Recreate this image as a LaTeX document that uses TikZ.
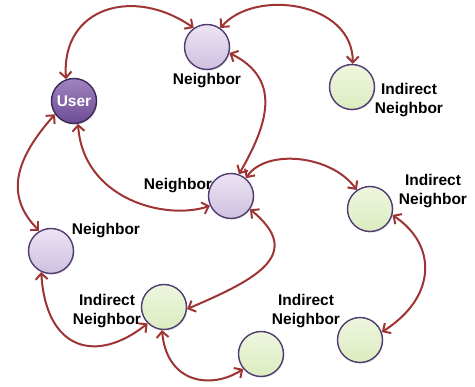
\documentclass[tikz,border=0pt]{standalone}
\usepackage{fontspec}
\setmainfont{Liberation Sans}
\usetikzlibrary{arrows.meta,shadows}
\definecolor{arrowred}{RGB}{158,52,52}
\definecolor{rimpurple}{RGB}{80,60,112}
\definecolor{userrim}{RGB}{60,40,90}
\tikzset{
  ball/.style={circle, minimum size=45pt, inner sep=0pt, line width=1.4pt, draw=rimpurple,
    drop shadow={opacity=0.25, shadow xshift=1pt, shadow yshift=-1.2pt}},
  userball/.style={ball, draw=userrim, top color={rgb,255:red,160;green,132;blue,192}, bottom color={rgb,255:red,108;green,76;blue,148},
    text=white, font=\bfseries\fontsize{15.5}{18}\selectfont},
  nbball/.style={ball, top color={rgb,255:red,236;green,228;blue,244}, bottom color={rgb,255:red,206;green,192;blue,224}},
  indball/.style={ball, top color={rgb,255:red,238;green,246;blue,222}, bottom color={rgb,255:red,220;green,236;blue,192}},
  lbl/.style={align=center, inner sep=0pt, font=\bfseries\fontsize{15.5}{19}\selectfont},
  link/.style={draw=arrowred, line width=2pt, {Straight Barb[length=6pt,width=12pt]}-{Straight Barb[length=6pt,width=12pt]}}
}
\begin{document}
\begin{tikzpicture}[x=1pt,y=1pt]
\useasboundingbox (0,0) rectangle (475,-387);
\node[userball] (U) at (74,-101) {User};
\node[nbball] (N1) at (207,-47) {};
\node[indball] (I1) at (352,-87) {};
\node[nbball] (N2) at (231,-196) {};
\node[indball] (I2) at (370,-209) {};
\node[nbball] (N3) at (51,-251) {};
\node[indball] (I3) at (164,-307) {};
\node[indball] (I4) at (261,-354) {};
\node[indball] (I5) at (360,-340) {};

\node[lbl] (L1) at (207,-81) {Neighbor};
\node[lbl] (L2) at (409,-100) {Indirect\\Neighbor};
\node[lbl] (L3) at (178,-186) {Neighbor};
\node[lbl] (L4) at (433,-191) {Indirect\\Neighbor};
\node[lbl] (L5) at (106,-231) {Neighbor};
\node[lbl] (L6) at (107,-311) {Indirect\\Neighbor};
\node[lbl] (L7) at (306,-311) {Indirect\\Neighbor};

\draw[link] (U.110) .. controls +(-5,72) and +(-60,42) .. (N1.125);
\draw[link] (N1.55) .. controls +(35,40) and +(0,62) .. (I1.88);
\draw[link] (N1.-15) .. controls +(50,-25) and +(32,55) .. (N2.70);
\draw[link] (U.-80) .. controls +(5,-75) and +(-45,-15) .. (N2.205);
\draw[link] (U.215) .. controls +(-40,-45) and +(-35,35) .. (N3.120);
\draw[link] (N2.50) .. controls +(20,30) and +(-25,35) .. (I2.125);
\draw[link] (N2.-35) .. controls +(55,-45) and +(70,30) .. (I3.-5);
\draw[link] (N3.-115) .. controls +(5,-80) and +(-50,-40) .. (I3.225);
\draw[link] (I3.-95) .. controls +(5,-55) and +(-30,-20) .. (I4.220);
\draw[link] (I2.-15) .. controls +(45,-30) and +(55,35) .. (I5.20);
\end{tikzpicture}
\end{document}
